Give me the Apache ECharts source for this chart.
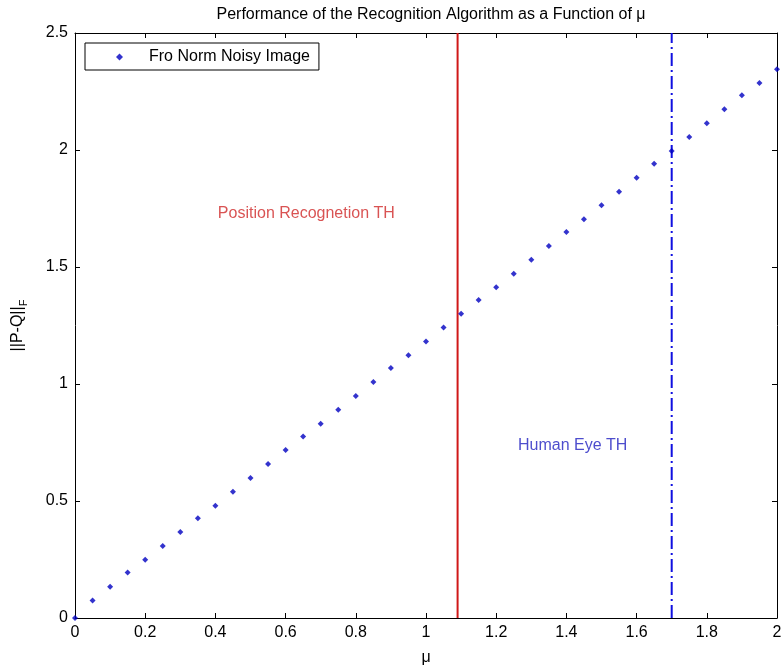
<!DOCTYPE html>
<html>
<head>
<meta charset="utf-8">
<script src="https://cdn.jsdelivr.net/npm/echarts@6/dist/echarts.min.js"></script>
<style>html,body{margin:0;padding:0;background:#fff;}#c{width:783px;height:667px;}</style>
</head>
<body>
<div id="c"></div>
<script>
const muValues = [0,0.05,0.1,0.15,0.2,0.25,0.3,0.35,0.4,0.45,0.5,0.55,0.6,0.65,0.7,0.75,0.8,0.85,0.9,0.95,1.0,1.05,1.1,1.15,1.2,1.25,1.3,1.35,1.4,1.45,1.5,1.55,1.6,1.65,1.7,1.75,1.8,1.85,1.9,1.95,2.0];
const froNorm = [0,0.075,0.134,0.194,0.249,0.308,0.367,0.426,0.480,0.540,0.598,0.658,0.718,0.776,0.830,0.890,0.949,1.009,1.068,1.123,1.182,1.241,1.300,1.359,1.413,1.471,1.531,1.590,1.650,1.704,1.764,1.822,1.881,1.941,1.996,2.056,2.114,2.174,2.234,2.286,2.345];
const positionTH = 1.09;
const humanEyeTH = 1.7;
const positionLabel = [0.407, 1.73];
const humanLabel = [1.262, 0.735];
const xTicks = [0, 2, 0.2];
const yTicks = [0, 2.5, 0.5];

const FONT = 'Liberation Sans, Arial, sans-serif';
const chart = echarts.init(document.getElementById('c'));
const axisCommon = {
  axisLine: {show: true, onZero: false, lineStyle: {color: '#000', width: 1}},
  axisTick: {show: true, inside: true, length: 5, lineStyle: {color: '#000'}},
  splitLine: {show: false}
};
const lbl = {color: '#000', fontSize: 16, fontFamily: FONT};
chart.setOption({
  animation: false,
  backgroundColor: '#fff',
  title: {
    text: 'Performance of the Recognition Algorithm as a Function of μ',
    left: 426, top: 2, textAlign: 'center',
    textStyle: {fontSize: 16, fontWeight: 'normal', color: '#000', fontFamily: FONT}
  },
  legend: {
    left: 85, top: 43,
    orient: 'vertical',
    data: [{name: 'Fro Norm Noisy Image', icon: 'diamond'}],
    itemWidth: 7, itemHeight: 7,
    padding: [6, 9, 5, 31],
    borderColor: '#000', borderWidth: 1, backgroundColor: '#fff',
    textStyle: {fontSize: 16, color: '#000', fontFamily: FONT, padding: [0, 0, 0, 21]}
  },
  grid: {left: 75, right: 6, top: 33, bottom: 49, outerBoundsMode: 'none', containLabel: false},
  xAxis: [
    Object.assign({type: 'value', min: xTicks[0], max: xTicks[1], interval: xTicks[2],
      name: 'μ', nameLocation: 'middle', nameGap: 32,
      nameTextStyle: {fontSize: 16, color: '#000', fontFamily: FONT},
      axisLabel: Object.assign({margin: 7}, lbl)}, axisCommon),
    Object.assign({type: 'value', position: 'top', min: xTicks[0], max: xTicks[1], interval: xTicks[2],
      axisLabel: {show: false}}, axisCommon)
  ],
  yAxis: [
    Object.assign({type: 'value', min: yTicks[0], max: yTicks[1], interval: yTicks[2],
      name: '||P-Q||{s|F}', nameLocation: 'middle', nameGap: 46,
      nameTextStyle: {fontSize: 16, color: '#000', fontFamily: FONT, lineHeight: 22,
        rich: {s: {fontSize: 11, color: '#000', fontFamily: FONT, verticalAlign: 'bottom', lineHeight: 22}}},
      axisLabel: Object.assign({margin: 7}, lbl)}, axisCommon),
    Object.assign({type: 'value', position: 'right', min: yTicks[0], max: yTicks[1], interval: yTicks[2],
      axisLabel: {show: false}}, axisCommon)
  ],
  series: [
    {
      name: 'Fro Norm Noisy Image', type: 'scatter', symbol: 'diamond', symbolSize: 6,
      itemStyle: {color: '#0000c0'},
      data: muValues.map((m, i) => [m, froNorm[i]]), z: 5
    },
    {
      name: 'posTH', type: 'line', showSymbol: false, symbol: 'none',
      lineStyle: {color: '#d01818', width: 2},
      data: [[positionTH, yTicks[0]], [positionTH, yTicks[1]]], z: 3
    },
    {
      name: 'eyeTH', type: 'line', showSymbol: false, symbol: 'none',
      lineStyle: {color: '#1010e0', width: 2, type: [13, 4, 2, 4]},
      data: [[humanEyeTH, yTicks[0]], [humanEyeTH, yTicks[1]]], z: 3
    },
    {
      name: 'labels', type: 'scatter', symbolSize: 0, silent: true,
      data: [
        {value: positionLabel, label: {show: true, position: 'right', distance: 0, formatter: 'Position Recognetion TH', color: '#d02828', fontSize: 16, fontFamily: FONT}},
        {value: humanLabel, label: {show: true, position: 'right', distance: 0, formatter: 'Human Eye TH', color: '#2020c0', fontSize: 16, fontFamily: FONT}}
      ]
    }
  ]
});
</script>
</body>
</html>
